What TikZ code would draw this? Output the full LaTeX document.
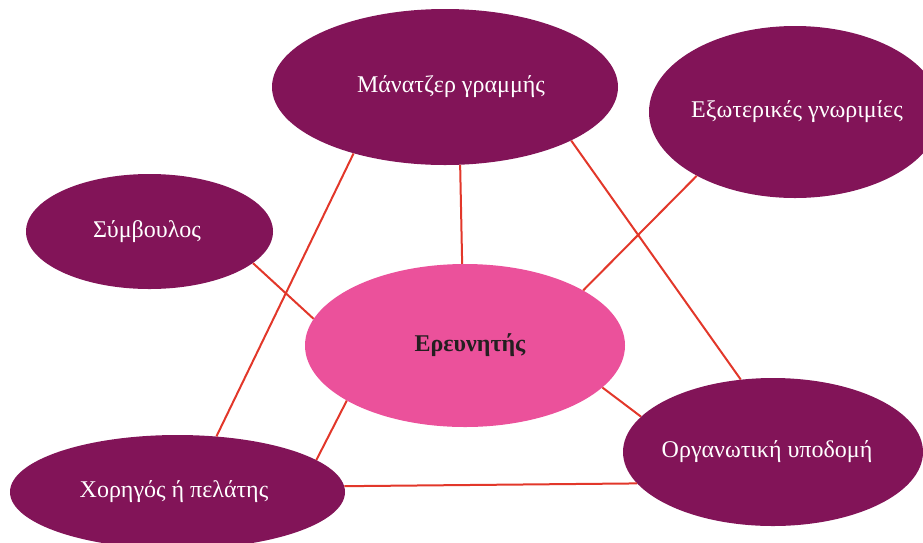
\documentclass[tikz,border=0pt]{standalone}
\usepackage{fontspec}
\setmainfont{Liberation Serif}
\usetikzlibrary{shapes.geometric}
\definecolor{plum}{HTML}{821458}
\definecolor{rose}{HTML}{EB519B}
\definecolor{linkred}{HTML}{E2372A}
\definecolor{ink}{HTML}{231F20}

\begin{document}
\begin{tikzpicture}[x=1pt,y=-1pt,
  every node/.style={shape=ellipse,fill=plum,text=white,inner sep=0pt,font=\fontsize{24}{28}\selectfont},
  link/.style={draw=linkred,line width=2pt}]
  \useasboundingbox (0,0) rectangle (923,542);
  \path (445,87) node[minimum width=346pt,minimum height=156pt] (mgr) {\makebox[0pt]{\hspace{12pt}Μάνατζερ γραμμής}}
  (795,112) node[minimum width=292pt,minimum height=172pt] (ext) {\makebox[0pt]{\hspace{4pt}Εξωτερικές γνωριμίες}}
  (149.5,231.5) node[minimum width=247pt,minimum height=115pt] (adv) {\makebox[0pt]{Σύμβουλος\hspace{5pt}}}
  (465,345.5) node[fill=rose,text=ink,minimum width=320pt,minimum height=163pt] (res) {\makebox[0pt]{\hspace{10pt}\bfseries Ερευνητής}}
  (773,452) node[minimum width=300pt,minimum height=148pt] (org) {\makebox[0pt]{Οργανωτική υποδομή\hspace{12pt}}}
  (177.5,492) node[minimum width=335pt,minimum height=114pt] (spon) {\makebox[0pt]{Χορηγός ή πελάτης\hspace{7pt}}};
  \draw[link] (mgr.216.9) -- (spon.55.7);
  \draw[link] (mgr.281.6) -- (res.92.8);
  \draw[link] (mgr.337.8) -- (org.114);
  \draw[link] (ext.213.1) -- (res.25.2);
  \draw[link] (adv.343.9) -- (res.170.5);
  \draw[link] (res.205.6) -- (spon.13.9);
  \draw[link] (res.343.1) -- (org.165.5);
  \draw[link] (spon.2.7) -- (org.193.5);
\end{tikzpicture}
\end{document}
